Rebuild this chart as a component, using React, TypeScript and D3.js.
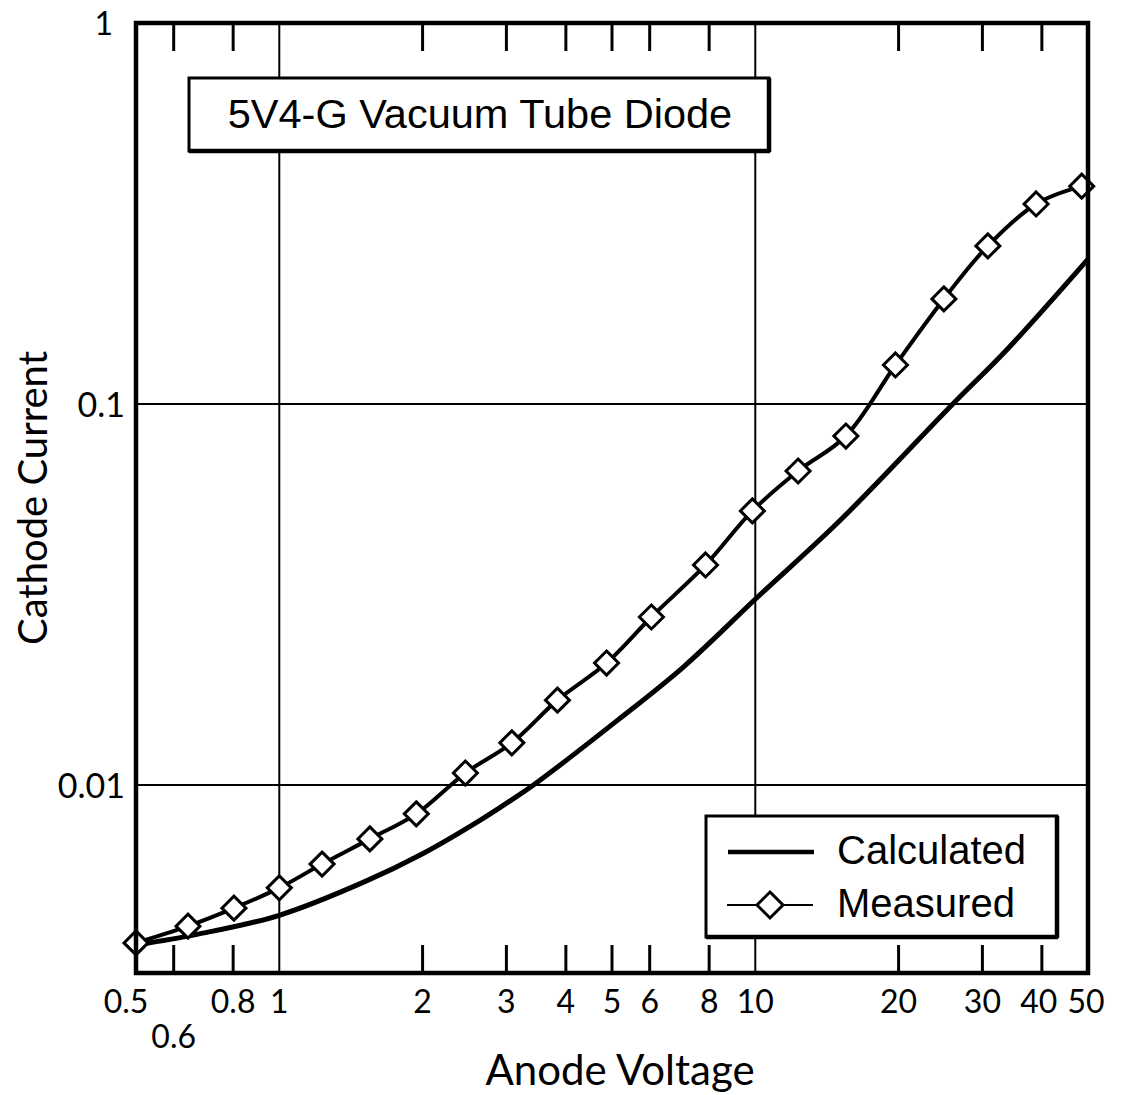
import React from "react";
import * as d3 from "d3";

const W = 1130;
const H = 1095;

// Measured points (anode voltage V, cathode current A)
const measuredV = [0.5, 0.643, 0.803, 1.0, 1.23, 1.55, 1.94, 2.46, 3.08, 3.84, 4.87, 6.05, 7.86, 9.86, 12.3, 15.5, 19.7, 24.9, 30.8, 38.9, 48.5];
const measuredI = [0.00385, 0.00426, 0.00475, 0.00537, 0.0062, 0.00722, 0.0084, 0.01075, 0.0129, 0.0167, 0.0209, 0.0276, 0.0378, 0.0524, 0.0667, 0.0824, 0.1266, 0.1887, 0.26, 0.335, 0.373];

// Calculated curve
const calcV = [0.5, 0.675, 1.0, 1.5, 2.0, 2.65, 3.06, 3.42, 5.14, 7.06, 10.1, 15.1, 26.0, 33.8, 50];
const calcI = [0.0038, 0.00406, 0.00455, 0.00555, 0.0066, 0.0081, 0.0091, 0.01, 0.0148, 0.0204, 0.0311, 0.0496, 0.1, 0.139, 0.24];

// Axis ticks
const xTickValues = [0.6, 0.8, 2, 3, 4, 5, 6, 8, 20, 30, 40];
const xGridValues = [1, 10];
const xLabelValues = [0.5, 0.6, 0.8, 1, 2, 3, 4, 5, 6, 8, 10, 20, 30, 40, 50];
const xLabelTexts = ["0.5", "0.6", "0.8", "1", "2", "3", "4", "5", "6", "8", "10", "20", "30", "40", "50"];
const yGridValues = [0.1, 0.01];
const yLabelValues = [1, 0.1, 0.01];
const yLabelTexts = ["1", "0.1", "0.01"];

const titleText = "5V4-G Vacuum Tube Diode";
const xTitle = "Anode Voltage";
const yTitle = "Cathode Current";
const legendNames = ["Calculated", "Measured"];

const L = 136, R = 1088, T = 23, B = 973;
const geo = "Lato, 'Open Sans', sans-serif";
const helv = "'Liberation Sans', Arial, sans-serif";

export default function App() {
  const x = d3.scaleLog().domain([0.5, 50]).range([L, R]);
  const y = d3.scaleLog().domain([0.00321, 1]).range([B, T]);

  const measured = measuredV.map((v, i) => [v, measuredI[i]] as [number, number]);
  const calc = calcV.map((v, i) => [v, calcI[i]] as [number, number]);

  const lineM = d3.line<[number, number]>().x(d => x(d[0])).y(d => y(d[1])).curve(d3.curveCatmullRom.alpha(0.5));
  const lineC = d3.line<[number, number]>().x(d => x(d[0])).y(d => y(d[1])).curve(d3.curveCatmullRom.alpha(0.5));

  const diamond = (cx: number, cy: number, r: number) =>
    `M${cx},${cy - r}L${cx + r},${cy}L${cx},${cy + r}L${cx - r},${cy}Z`;

  const tickLen = 28;

  return (
    <svg width={W} height={H} style={{ position: "absolute", left: 0, top: 0, background: "#fff" }}>
      <rect x={0} y={0} width={W} height={H} fill="#fff" />
      {/* grid */}
      {xGridValues.map(v => (
        <line key={"gx" + v} x1={x(v)} x2={x(v)} y1={T} y2={B} stroke="#000" strokeWidth={2} />
      ))}
      {yGridValues.map(v => (
        <line key={"gy" + v} x1={L} x2={R} y1={y(v)} y2={y(v)} stroke="#000" strokeWidth={2} />
      ))}
      {/* ticks top and bottom */}
      {xTickValues.map(v => (
        <g key={"t" + v}>
          <line x1={x(v)} x2={x(v)} y1={B} y2={B - tickLen} stroke="#000" strokeWidth={3} />
          <line x1={x(v)} x2={x(v)} y1={T} y2={T + tickLen} stroke="#000" strokeWidth={3} />
        </g>
      ))}
      {/* calculated */}
      <path d={lineC(calc) || ""} fill="none" stroke="#000" strokeWidth={5} />
      {/* measured */}
      <path d={lineM(measured) || ""} fill="none" stroke="#000" strokeWidth={4} />
      {measured.map((d, i) => (
        <path key={"m" + i} d={diamond(x(d[0]), y(d[1]), 12)} fill="#fff" stroke="#000" strokeWidth={3} />
      ))}
      {/* frame */}
      <rect x={L} y={T} width={R - L} height={B - T} fill="none" stroke="#000" strokeWidth={4.5} />

      {/* title box */}
      <rect x={189} y={78} width={580} height={73} fill="#fff" stroke="#000" strokeWidth={3} />
      <line x1={769} x2={769} y1={78} y2={152} stroke="#000" strokeWidth={4.5} />
      <line x1={189} x2={770} y1={151} y2={151} stroke="#000" strokeWidth={4.5} />
      <text x={480} y={128} textAnchor="middle" fontFamily={helv} fontSize={41.5} fill="#000">{titleText}</text>

      {/* legend */}
      <rect x={706} y={816} width={351} height={121} fill="#fff" stroke="#000" strokeWidth={3} />
      <line x1={1057} x2={1057} y1={816} y2={938} stroke="#000" strokeWidth={4.5} />
      <line x1={706} x2={1058} y1={937} y2={937} stroke="#000" strokeWidth={4.5} />
      <line x1={728} x2={814} y1={852} y2={852} stroke="#000" strokeWidth={4.5} />
      <text x={837} y={864} fontFamily={helv} fontSize={40} fill="#000">{legendNames[0]}</text>
      <line x1={727} x2={813} y1={905} y2={905} stroke="#000" strokeWidth={2} />
      <path d={diamond(770, 905, 13)} fill="#fff" stroke="#000" strokeWidth={3} />
      <text x={837} y={917} fontFamily={helv} fontSize={40} fill="#000">{legendNames[1]}</text>

      {/* x labels */}
      {xLabelValues.map((v, i) => {
        const lower = v === 0.6;
        const dx = v === 0.5 ? -10 : v === 50 ? -2 : v === 40 ? -3 : 0;
        return (
          <text key={"xl" + v} x={x(v) + dx} y={lower ? 1048 : 1013} textAnchor="middle"
            fontFamily={geo} fontSize={32} fill="#000">{xLabelTexts[i]}</text>
        );
      })}
      {/* y labels */}
      {yLabelValues.map((v, i) => (
        <text key={"yl" + v} x={v === 1 ? 113 : 125} y={v === 1 ? y(v) : y(v) + 1} dy="0.36em" textAnchor="end"
          fontFamily={geo} fontSize={v === 1 ? 32 : 34} fill="#000">{yLabelTexts[i]}</text>
      ))}
      {/* axis titles */}
      <text x={620} y={1085} textAnchor="middle" fontFamily={geo} fontSize={42} fill="#000">{xTitle}</text>
      <text transform="translate(47,498) rotate(-90)" textAnchor="middle" fontFamily={geo} fontSize={40} fill="#000">{yTitle}</text>
    </svg>
  );
}
